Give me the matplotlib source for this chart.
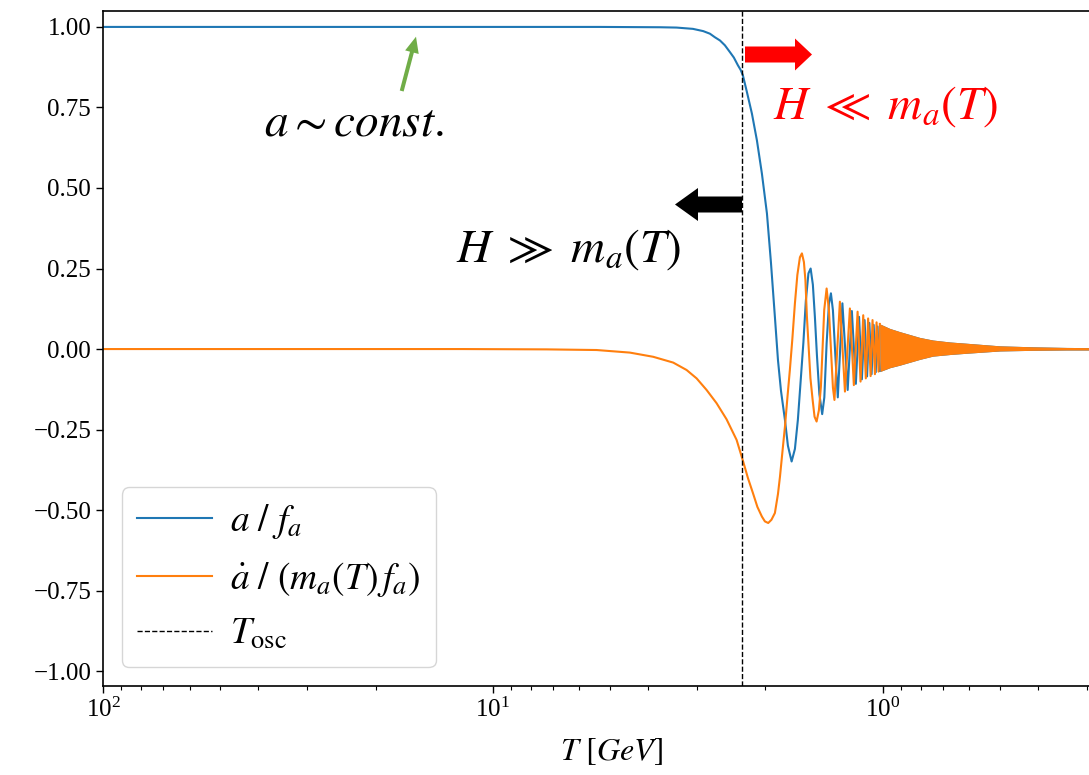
import matplotlib
matplotlib.use("Agg")
import matplotlib.pyplot as plt
from matplotlib.patches import FancyArrow
from matplotlib.transforms import IdentityTransform

# Values (T in GeV, axis runs from hot to cold)
blue_T = [100, 17.32, 5.316, 4.455, 3.731, 3.381, 3.070, 2.889, 2.777, 2.697,
          2.617, 2.542, 2.468, 2.411, 2.354, 2.317, 2.286,
          2.232, 2.167, 2.104, 2.043, 1.983, 1.937, 1.892, 1.858, 1.825, 1.783,
          1.752, 1.714, 1.681, 1.652, 1.623, 1.599, 1.576, 1.552, 1.532, 1.512,
          1.494, 1.476, 1.455, 1.431, 1.413, 1.394, 1.375, 1.359, 1.343, 1.324,
          1.305, 1.270, 1.231, 1.201, 1.173, 1.151, 1.132, 1.114, 1.098, 1.083,
          1.069, 1.056, 1.043, 1.032, 1.021]
blue_val = [1.0, 1.0, 1.0, 0.9995, 0.999, 0.998, 0.994, 0.987, 0.979, 0.968,
            0.958, 0.943, 0.922, 0.905, 0.881, 0.867, 0.850,
            0.798, 0.731, 0.648, 0.545, 0.421, 0.27, 0.10, -0.034, -0.13, -0.22,
            -0.30, -0.349, -0.31, -0.22, -0.09, 0.02, 0.15, 0.235, 0.25, 0.20,
            0.10, -0.02, -0.14, -0.202, -0.15, 0.018, 0.14, 0.173, 0.12, -0.02,
            -0.150, 0.142, -0.127, 0.118, -0.108, 0.100, -0.094, 0.090, -0.085, 0.081,
            -0.078, 0.075, -0.072, 0.070, -0.068]

orange_T = [100, 12.0, 7.283, 5.421, 4.455, 3.882, 3.449, 3.187, 3.004, 2.832,
            2.670, 2.517, 2.372, 2.282, 2.219, 2.154, 2.098, 2.043, 2.007, 1.968, 1.931,
            1.892, 1.858, 1.836, 1.810, 1.783, 1.757, 1.732, 1.707, 1.681, 1.657,
            1.632, 1.613, 1.594, 1.580, 1.566, 1.552, 1.534, 1.514, 1.497, 1.479,
            1.459, 1.442, 1.428, 1.414, 1.394, 1.375, 1.359, 1.343, 1.331, 1.289,
            1.251, 1.215, 1.187, 1.161, 1.141, 1.123, 1.106, 1.091, 1.075, 1.063,
            1.048, 1.038, 1.026, 1.018]
orange_val = [0.0, 0.0, -0.001, -0.003, -0.011, -0.024, -0.042, -0.065, -0.091, -0.127,
              -0.168, -0.218, -0.282, -0.349, -0.40, -0.447, -0.49, -0.520, -0.535, -0.540, -0.53,
              -0.509, -0.45, -0.396, -0.32, -0.241, -0.15, -0.065, 0.03, 0.142, 0.23,
              0.285, 0.297, 0.27, 0.214, 0.10, 0.018, -0.09, -0.158, -0.21, -0.225,
              -0.19, -0.117, 0.0, 0.121, 0.188, 0.12, 0.0, -0.12, -0.158, 0.147,
              -0.132, 0.126, -0.112, 0.116, -0.101, 0.105, -0.091, 0.095, -0.084, 0.090,
              -0.078, 0.083, -0.070, 0.078]

# Envelope of the fast oscillations, which show up as a solid band
band_T = [1.018, 0.960, 0.9045, 0.8038, 0.7443, 0.6732, 0.6089, 0.5012, 0.4124, 0.3375, 0.2963, 0.248]
band_top = [0.078, 0.064, 0.054, 0.036, 0.028, 0.022, 0.018, 0.010, 0.007, 0.005, 0.0045, 0.0045]
band_bottom = [-0.070, -0.058, -0.050, -0.032, -0.022, -0.017, -0.013, -0.006, -0.004, -0.003, -0.003, -0.003]

T_osc = 2.3
y_ticks = [-1.0, -0.75, -0.5, -0.25, 0.0, 0.25, 0.5, 0.75, 1.0]

plt.rcParams["font.family"] = "serif"
plt.rcParams["font.serif"] = ["Liberation Serif", "DejaVu Serif"]
plt.rcParams["mathtext.fontset"] = "stix"

W, H = 1089, 775
fig = plt.figure(figsize=(W / 100, H / 100), dpi=100)
# the right part of the axes is cut off by the picture edge, as in the original
ax = fig.add_axes([103 / W, (H - 686) / H, (1119 - 103) / W, (686 - 10.5) / H])

ax.plot(blue_T, blue_val, color="#1f77b4", lw=1.5, label=r"$a\ /\ f_a$")
ax.fill_between(band_T, band_bottom, band_top, color="#1f77b4", lw=0)
ax.plot(orange_T, orange_val, color="#ff7f0e", lw=1.5, label=r"$\dot{a}\ /\ (m_a(T)\,f_a)$")
ax.fill_between(band_T, band_bottom, band_top, color="#ff7f0e", lw=0)
ax.axvline(T_osc, color="black", ls="--", lw=1, label=r"$T_{\rm osc}$")

ax.set_xscale("log")
ax.set_xlim(100, 0.248)
ax.set_ylim(-1.046, 1.051)
ax.set_yticks(y_ticks)
ax.spines["right"].set_visible(False)
for side in ["left", "bottom", "top"]:
    ax.spines[side].set_linewidth(1.2)
ax.tick_params(which="major", direction="out", length=5, width=1, labelsize=18)
ax.tick_params(which="minor", direction="out", length=3, width=0.8)
ax.set_xlabel(r"$T\ [GeV]$", fontsize=23, labelpad=10)
ax.legend(loc="lower left", fontsize=27, handlelength=2.0, handletextpad=0.5)


# Annotations, placed in pixel coordinates of the picture
def fx(x):
    return x / W


def fy(y):
    return 1 - y / H


fig.text(fx(354), fy(135), r"$a{\sim}const.$", fontsize=34, ha="center", va="baseline")
fig.text(fx(886), fy(119), r"$H\ \ll\ m_a(T)$", fontsize=34, color="red", ha="center", va="baseline")
fig.text(fx(569), fy(262), r"$H\ \gg\ m_a(T)$", fontsize=34, color="black", ha="center", va="baseline")

px = IdentityTransform()
fig.add_artist(FancyArrow(745, H - 54.5, 67, 0, width=16, head_width=32, head_length=17,
                          length_includes_head=True, color="red", lw=0, transform=px))
fig.add_artist(FancyArrow(742, H - 204.5, -67, 0, width=16, head_width=33, head_length=23,
                          length_includes_head=True, color="black", lw=0, transform=px))
fig.add_artist(FancyArrow(401.7, H - 91, 14.3, 54.3, width=4, head_width=14, head_length=16,
                          length_includes_head=True, color="#70ad47", lw=0, transform=px))

fig.savefig("out.png", dpi=100, facecolor="white")
